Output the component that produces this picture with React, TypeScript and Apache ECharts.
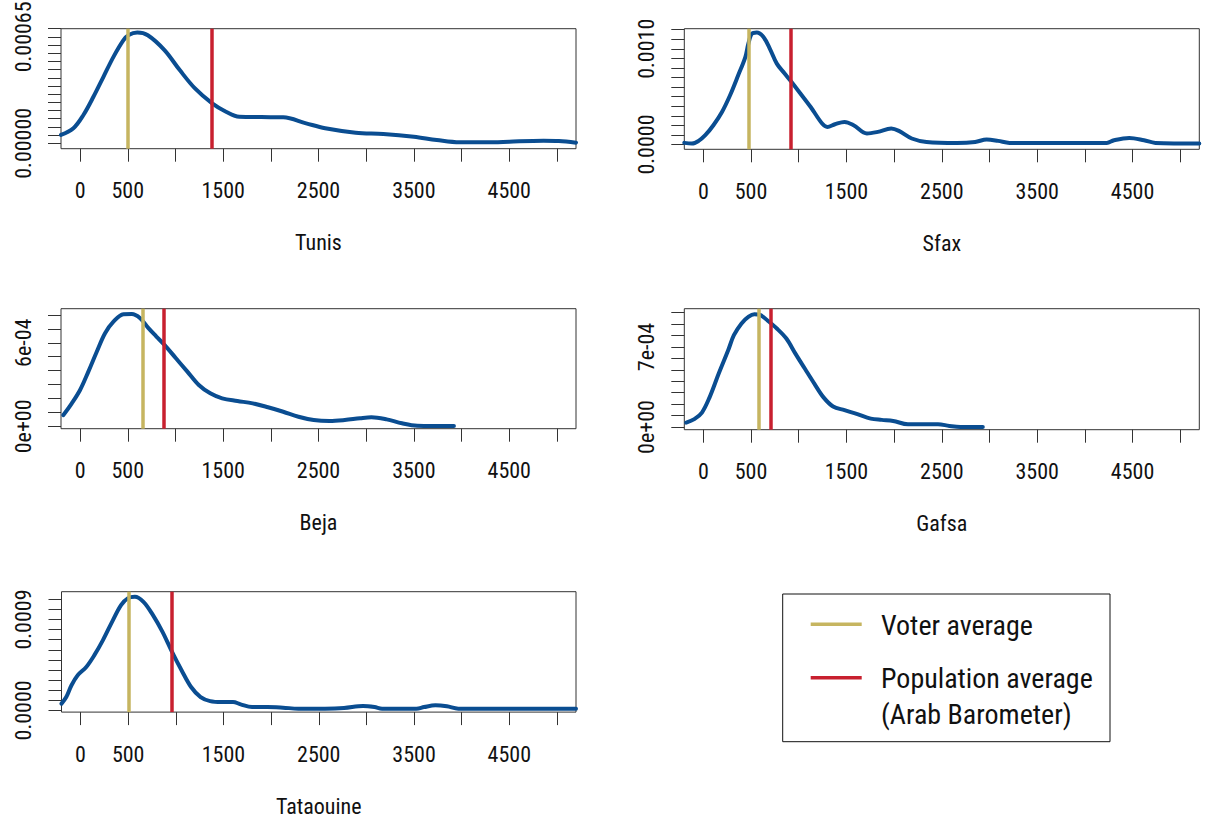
import React, { useEffect, useRef } from "react";
import * as echarts from "echarts";

// ---------------- data ----------------
const PANEL_NAMES = ["Tunis", "Sfax", "Beja", "Gafsa", "Tataouine"];

const X_TICK_VALUES = [0, 500, 1000, 1500, 2000, 2500, 3000, 3500, 4000, 4500, 5000];
const X_LABEL_VALUES = [0, 500, 1500, 2500, 3500, 4500];

const tunisX = [-200, -70, 35, 140, 245, 350, 455, 510, 600, 710, 885, 1045, 1205, 1385, 1530, 1670, 1900, 2130, 2370, 2570, 2890, 3180, 3500, 3740, 3980, 4340, 4500, 4860, 5020, 5200];
const tunisY = [5.1e-5, 9.2e-5, 1.73e-4, 2.84e-4, 4.06e-4, 5.28e-4, 6.3e-4, 6.62e-4, 6.77e-4, 6.6e-4, 5.69e-4, 4.47e-4, 3.35e-4, 2.44e-4, 1.93e-4, 1.62e-4, 1.6e-4, 1.59e-4, 1.22e-4, 9.2e-5, 6.5e-5, 5.7e-5, 4.0e-5, 2.0e-5, 6e-6, 6e-6, 1e-5, 1.6e-5, 1.4e-5, 4e-6];

const sfaxX = [-200, -120, -50, 20, 105, 195, 280, 365, 440, 472, 510, 560, 630, 700, 770, 850, 910, 1005, 1125, 1245, 1300, 1380, 1480, 1575, 1715, 1830, 1970, 2050, 2185, 2340, 2660, 2850, 2970, 3090, 3210, 4230, 4305, 4465, 4620, 4740, 5200];
const sfaxY = [1.7e-5, 1.0e-5, 3.8e-5, 9.7e-5, 2.01e-4, 3.4e-4, 5.15e-4, 7.23e-4, 9.14e-4, 1.054e-3, 1.159e-3, 1.169e-3, 1.123e-3, 9.95e-4, 8.45e-4, 7.45e-4, 6.71e-4, 5.49e-4, 3.92e-4, 2.19e-4, 1.84e-4, 2.12e-4, 2.36e-4, 2.01e-4, 1.15e-4, 1.32e-4, 1.67e-4, 1.42e-4, 6.3e-5, 2.7e-5, 1.7e-5, 2.7e-5, 5.2e-5, 3.8e-5, 1.7e-5, 1.7e-5, 4.5e-5, 6.9e-5, 4.5e-5, 1.7e-5, 1.0e-5];

const bejaX = [-175, -87, 0, 87, 175, 262, 350, 455, 542, 630, 717, 800, 885, 1005, 1125, 1245, 1365, 1490, 1650, 1810, 1970, 2130, 2290, 2450, 2615, 2775, 2935, 3055, 3215, 3375, 3535, 3700, 3920];
const bejaY = [8.1e-5, 1.65e-4, 2.61e-4, 3.93e-4, 5.36e-4, 6.69e-4, 7.52e-4, 8.05e-4, 8.07e-4, 7.77e-4, 7.05e-4, 6.45e-4, 5.85e-4, 4.89e-4, 3.93e-4, 2.97e-4, 2.37e-4, 2.01e-4, 1.82e-4, 1.65e-4, 1.37e-4, 1.05e-4, 6.9e-5, 4.5e-5, 3.8e-5, 4.5e-5, 5.8e-5, 6.5e-5, 5.0e-5, 2.2e-5, 4e-6, 2e-6, 2e-6];

const gafsaX = [-180, -95, -15, 65, 160, 260, 320, 400, 475, 535, 595, 675, 770, 870, 965, 1065, 1165, 1260, 1360, 1480, 1615, 1755, 1870, 1990, 2145, 2265, 2460, 2580, 2695, 2930];
const gafsaY = [3.8e-5, 6.8e-5, 1.26e-4, 2.59e-4, 4.65e-4, 6.71e-4, 8.03e-4, 9.06e-4, 9.65e-4, 9.86e-4, 9.8e-4, 9.3e-4, 8.62e-4, 7.74e-4, 6.42e-4, 5.09e-4, 3.77e-4, 2.59e-4, 1.79e-4, 1.47e-4, 1.12e-4, 7.3e-5, 6.2e-5, 5.3e-5, 2.4e-5, 2.4e-5, 2.4e-5, 9e-6, 0, 0];

const tataouineX = [-200, -150, -95, -30, 60, 145, 235, 340, 425, 495, 570, 660, 760, 860, 960, 1060, 1160, 1260, 1360, 1480, 1600, 1680, 1800, 1960, 2125, 2285, 2565, 2765, 2965, 3085, 3165, 3525, 3605, 3725, 3845, 3965, 5200];
const tataouineY = [6.7e-5, 1.32e-4, 2.49e-4, 3.48e-4, 4.3e-4, 5.47e-4, 6.96e-4, 8.95e-4, 1.044e-3, 1.11e-3, 1.126e-3, 1.076e-3, 9.44e-4, 7.78e-4, 5.8e-4, 3.98e-4, 2.32e-4, 1.32e-4, 9.2e-5, 8.3e-5, 8.3e-5, 6.0e-5, 3.3e-5, 3.3e-5, 2.7e-5, 1.7e-5, 1.7e-5, 2.3e-5, 4.3e-5, 3.3e-5, 1.7e-5, 1.7e-5, 3.3e-5, 5.0e-5, 4.0e-5, 1.7e-5, 1.7e-5];

const CURVE_X = [tunisX, sfaxX, bejaX, gafsaX, tataouineX];
const CURVE_Y = [tunisY, sfaxY, bejaY, gafsaY, tataouineY];

const voterAverage = [500, 478, 655, 580, 505];
const populationAverage = [1380, 915, 878, 710, 952];

const yMin = [-0.000033, -0.00005, -0.000017, -0.000024, -0.000017];
const yMax = [0.0007, 0.00121, 0.000845, 0.001035, 0.001176];
const yTickStep = [0.00005, 0.0001, 0.0001, 0.0001, 0.0001];
const yTickCount = [15, 13, 9, 11, 12];
const yLabelValues = [[0, 0.00065], [0, 0.001], [0, 0.0006], [0, 0.0007], [0, 0.0009]];
const yLabelTexts = [["0.00000", "0.00065"], ["0.0000", "0.0010"], ["0e+00", "6e-04"], ["0e+00", "7e-04"], ["0.0000", "0.0009"]];

const LEGEND_LABELS = ["Voter average", "Population average", "(Arab Barometer)"];

// ---------------- layout & style ----------------
const GRID_BOXES = [
  { left: 61, top: 28.7, width: 515, height: 120 },
  { left: 684.3, top: 28.7, width: 515, height: 120.6 },
  { left: 61, top: 308.7, width: 515, height: 120 },
  { left: 684.3, top: 308.7, width: 515, height: 121 },
  { left: 61.5, top: 591.7, width: 514.5, height: 120.4 },
];
const FONT = "'Liberation Sans Narrow', 'Arial Narrow', 'Roboto Condensed', sans-serif";
const BLUE = "#0A4D91";
const YELLOW = "#C6B560";
const RED = "#C8202F";
const INK = "#111111";
const AXIS = "#333333";

export default function App() {
  const ref = useRef<HTMLDivElement>(null);

  useEffect(() => {
    if (!ref.current) return;
    const chart = echarts.init(ref.current, null, { renderer: "svg" });

    const grid = GRID_BOXES.map((b) => ({
      left: b.left,
      top: b.top,
      width: b.width,
      height: b.height,
      show: true,
      borderColor: AXIS,
      borderWidth: 1,
      backgroundColor: "transparent",
      containLabel: false,
      outerBoundsMode: "none",
    }));

    const xAxis = PANEL_NAMES.map((name, i) => ({
      type: "value",
      gridIndex: i,
      position: "bottom",
      min: -200,
      max: 5200,
      axisLine: { show: false, onZero: false },
      splitLine: { show: false },
      axisTick: {
        show: true,
        customValues: X_TICK_VALUES,
        length: 13,
        inside: false,
        lineStyle: { color: AXIS, width: 1 },
      },
      axisLabel: {
        show: true,
        customValues: X_LABEL_VALUES,
        margin: 31,
        fontSize: 22,
        fontFamily: FONT,
        color: INK,
        formatter: (v: number) => String(Math.round(v)),
      },
      name,
      nameLocation: "middle",
      nameGap: 83,
      nameTextStyle: { fontSize: 22, fontFamily: FONT, color: INK },
    }));

    const yAxis = PANEL_NAMES.map((_, i) => {
      const ticks: number[] = [];
      for (let k = 0; k < yTickCount[i]; k++) ticks.push(parseFloat((k * yTickStep[i]).toFixed(7)));
      return {
        type: "value",
        gridIndex: i,
        position: "left",
        min: yMin[i],
        max: yMax[i],
        axisLine: { show: false, onZero: false },
        splitLine: { show: false },
        axisTick: {
          show: true,
          customValues: ticks,
          length: 13,
          inside: false,
          lineStyle: { color: AXIS, width: 1 },
        },
        axisLabel: {
          show: true,
          customValues: yLabelValues[i],
          rotate: 90,
          margin: 27,
          fontSize: 22,
          fontFamily: FONT,
          color: INK,
          formatter: (v: number) => {
            const idx = yLabelValues[i].findIndex((lv) => Math.abs(lv - v) < yTickStep[i] * 0.01);
            return idx >= 0 ? yLabelTexts[i][idx] : "";
          },
        },
      };
    });

    const series: any[] = [];
    PANEL_NAMES.forEach((name, i) => {
      series.push({
        type: "line",
        name,
        xAxisIndex: i,
        yAxisIndex: i,
        data: CURVE_X[i].map((x, j) => [x, CURVE_Y[i][j]]),
        smooth: 0.35,
        symbol: "none",
        showSymbol: false,
        clip: true,
        silent: true,
        lineStyle: { color: BLUE, width: 4, cap: "round", join: "round" },
        z: 2,
      });
      series.push({
        type: "line",
        name: "Voter average",
        xAxisIndex: i,
        yAxisIndex: i,
        data: [],
        silent: true,
        z: 3,
        markLine: {
          silent: true,
          symbol: ["none", "none"],
          label: { show: false },
          emphasis: { disabled: true },
          lineStyle: { color: YELLOW, width: 3.5, type: "solid" },
          data: [{ xAxis: voterAverage[i] }],
        },
      });
      series.push({
        type: "line",
        name: "Population average",
        xAxisIndex: i,
        yAxisIndex: i,
        data: [],
        silent: true,
        z: 3,
        markLine: {
          silent: true,
          symbol: ["none", "none"],
          label: { show: false },
          emphasis: { disabled: true },
          lineStyle: { color: RED, width: 3.5, type: "solid" },
          data: [{ xAxis: populationAverage[i] }],
        },
      });
    });

    const textStyle = (text: string, x: number, y: number) => ({
      type: "text",
      x,
      y,
      silent: true,
      style: {
        text,
        fontSize: 28,
        fontFamily: FONT,
        fill: INK,
        align: "left",
        textAlign: "left",
        verticalAlign: "middle",
        textVerticalAlign: "middle",
      },
    });

    const graphic = [
      {
        type: "rect",
        silent: true,
        shape: { x: 782.7, y: 594, width: 327.3, height: 147.7 },
        style: { fill: "#ffffff", stroke: INK, lineWidth: 1 },
      },
      {
        type: "line",
        silent: true,
        shape: { x1: 810.7, y1: 624.3, x2: 861.7, y2: 624.3 },
        style: { stroke: YELLOW, lineWidth: 3.5 },
      },
      {
        type: "line",
        silent: true,
        shape: { x1: 810.7, y1: 677.7, x2: 861.7, y2: 677.7 },
        style: { stroke: RED, lineWidth: 3.5 },
      },
      textStyle(LEGEND_LABELS[0], 881, 625.5),
      textStyle(LEGEND_LABELS[1], 881, 678.8),
      textStyle(LEGEND_LABELS[2], 881, 714.5),
    ];

    chart.setOption({
      animation: false,
      backgroundColor: "#ffffff",
      textStyle: { fontFamily: FONT },
      grid,
      xAxis,
      yAxis,
      series,
      graphic,
    } as any);

    return () => chart.dispose();
  }, []);

  return (
    <div
      ref={ref}
      style={{ position: "absolute", left: 0, top: 0, width: 1207, height: 825 }}
    />
  );
}
